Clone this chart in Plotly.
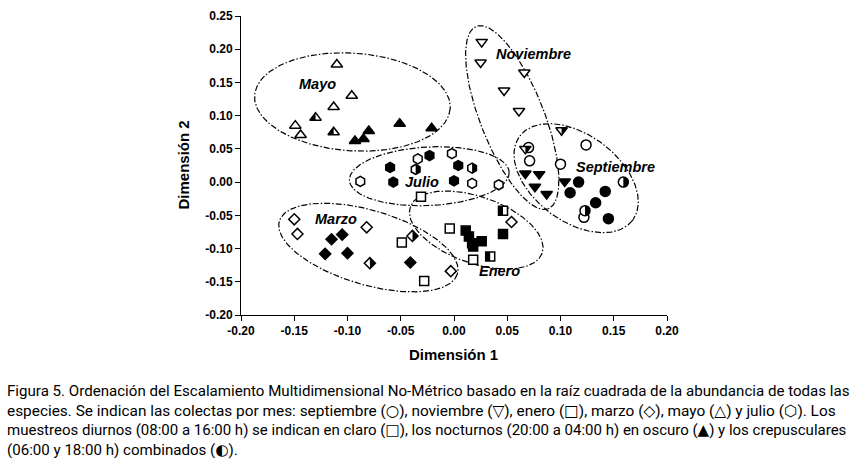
import numpy as np
import plotly.graph_objects as go

# ---------------- data (Dimension 1, Dimension 2) ----------------
# Septiembre (circle)
sep_open_x = [0.070, 0.071, 0.124, 0.100, 0.122]
sep_open_y = [0.052, 0.032, 0.056, 0.027, -0.053]
sep_fill_x = [0.117, 0.109, 0.142, 0.133, 0.145]
sep_fill_y = [0.000, -0.016, -0.014, -0.031, -0.055]
sep_half_x = [0.159, 0.123]
sep_half_y = [0.000, -0.043]

# Noviembre (triangle-down)
nov_open_x = [0.026, 0.025, 0.066, 0.047, 0.061]
nov_open_y = [0.211, 0.180, 0.165, 0.138, 0.107]
nov_fill_x = [0.067, 0.080, 0.076, 0.087, 0.104]
nov_fill_y = [0.013, 0.012, -0.007, -0.018, 0.001]
nov_half_x = [0.101, 0.067]
nov_half_y = [0.078, 0.050]

# Enero (square)
ene_open_x = [-0.031, -0.049, -0.004, 0.018, -0.028]
ene_open_y = [-0.022, -0.091, -0.070, -0.117, -0.149]
ene_fill_x = [0.011, 0.014, 0.017, 0.026, 0.018, 0.046]
ene_fill_y = [-0.073, -0.082, -0.092, -0.089, -0.097, -0.078]
ene_half_x = [0.046, 0.034]
ene_half_y = [-0.043, -0.112]

# Marzo (diamond)
mar_open_x = [-0.150, -0.147, -0.082, 0.054, -0.003]
mar_open_y = [-0.056, -0.078, -0.068, -0.060, -0.134]
mar_fill_x = [-0.115, -0.105, -0.121, -0.100, -0.041]
mar_fill_y = [-0.086, -0.079, -0.108, -0.107, -0.121]
mar_half_x = [-0.079, -0.039]
mar_half_y = [-0.122, -0.081]

# Mayo (triangle-up)
may_open_x = [-0.110, -0.096, -0.113, -0.149, -0.144]
may_open_y = [0.177, 0.130, 0.113, 0.085, 0.071]
may_fill_x = [-0.093, -0.085, -0.080, -0.051, -0.021]
may_fill_y = [0.062, 0.065, 0.077, 0.088, 0.081]
may_half_x = [-0.130, -0.113]
may_half_y = [0.097, 0.075]

# Julio (hexagon)
jul_open_x = [-0.034, -0.002, 0.017, 0.042, -0.088]
jul_open_y = [0.035, 0.043, -0.002, -0.004, 0.001]
jul_fill_x = [-0.023, -0.060, 0.004, -0.057, 0.000]
jul_fill_y = [0.040, 0.022, 0.025, 0.000, 0.002]
jul_half_x = [-0.036, 0.017]
jul_half_y = [0.019, 0.021]

# group labels
label_text = ["Mayo", "Noviembre", "Septiembre", "Julio", "Marzo", "Enero"]
label_x = [-0.128, 0.0745, 0.152, -0.030, -0.111, 0.043]
label_y = [0.147, 0.193, 0.0235, 0.000, -0.056, -0.134]

# ellipses: centre (data), semi-axes (px), angle (deg, clockwise on screen)
ell_cx = [-0.0954, 0.0547, 0.1147, -0.0232, 0.0209, -0.0804]
ell_cy = [0.1206, 0.0971, 0.0059, 0.0088, -0.0721, -0.0985]
ell_a = [98, 100, 71, 80, 70, 93]
ell_b = [50, 32, 44, 30, 34, 38]
ell_ang = [4, 69, 38, -3, 20, 17]

x_ticks = [-0.20, -0.15, -0.10, -0.05, 0.00, 0.05, 0.10, 0.15, 0.20]
y_ticks = [-0.20, -0.15, -0.10, -0.05, 0.00, 0.05, 0.10, 0.15, 0.20, 0.25]


def sym(c):
    return f'<span style="font-family:DejaVu Sans">{c}</span>'


caption = [
    "Figura 5. Ordenación del Escalamiento Multidimensional No-Métrico basado en la raíz cuadrada de la abundancia de todas las",
    f"especies. Se indican las colectas por mes: septiembre ({sym('○')}), noviembre ({sym('▽')}), enero ({sym('□')}), "
    f"marzo ({sym('◇')}), mayo ({sym('△')}) y julio ({sym('⬡')}). Los",
    f"muestreos diurnos (08:00 a 16:00 h) se indican en claro ({sym('□')}), los nocturnos (20:00 a 04:00 h) "
    f"en oscuro ({sym('▲')}) y los crepusculares",
    f"(06:00 y 18:00 h) combinados ({sym('◐')}).",
]
caption_size = [15.1, 15.4, 15.0, 15.1]

# ---------------- layout geometry ----------------
W, H = 856, 463
ML, MR, MT, MB = 241, 189, 9, 148
XR = [-0.20, 0.20]
YR = [-0.20, 0.25]
PW, PH = W - ML - MR, H - MT - MB
kx = PW / (XR[1] - XR[0])
ky = PH / (YR[1] - YR[0])

BOLD = "Liberation Sans"
CAP = "Roboto"

fig = go.Figure()

# ellipses
for cx, cy, a, b, ang in zip(ell_cx, ell_cy, ell_a, ell_b, ell_ang):
    t = np.linspace(0, 2 * np.pi, 240)
    u, v = a * np.cos(t), b * np.sin(t)
    th = np.radians(ang)
    dx = u * np.cos(th) - v * np.sin(th)
    dy = u * np.sin(th) + v * np.cos(th)
    fig.add_trace(go.Scatter(x=cx + dx / kx, y=cy - dy / ky, mode="lines",
                             line=dict(color="black", width=1.2, dash="6px,2px,1.5px,2px"),
                             hoverinfo="skip"))

groups = [
    ("circle", 10, (sep_open_x, sep_open_y), (sep_fill_x, sep_fill_y), (sep_half_x, sep_half_y), "right"),
    ("triangle-down", 10, (nov_open_x, nov_open_y), (nov_fill_x, nov_fill_y), (nov_half_x, nov_half_y), "right"),
    ("square", 9, (ene_open_x, ene_open_y), (ene_fill_x, ene_fill_y), (ene_half_x, ene_half_y), "left"),
    ("diamond", 8.5, (mar_open_x, mar_open_y), (mar_fill_x, mar_fill_y), (mar_half_x, mar_half_y), "right"),
    ("triangle-up", 10, (may_open_x, may_open_y), (may_fill_x, may_fill_y), (may_half_x, may_half_y), "left"),
    ("hexagon", 10, (jul_open_x, jul_open_y), (jul_fill_x, jul_fill_y), (jul_half_x, jul_half_y), "right"),
]


def half_poly(symbol, size, side):
    r = size / 2.0
    s = -1 if side == "left" else 1
    if symbol == "circle":
        ang = np.linspace(-np.pi / 2, np.pi / 2, 20)
        pts = [(s * r * np.cos(a), r * np.sin(a)) for a in ang]
    elif symbol == "square":
        pts = [(0, -r), (s * r, -r), (s * r, r), (0, r)]
    elif symbol == "diamond":
        rd = 1.3 * r
        pts = [(0, -rd), (s * rd, 0), (0, rd)]
    elif symbol == "triangle-up":
        rt = r * 2 / np.sqrt(3)
        pts = [(0, -r / 2), (s * rt, -r / 2), (0, r)]
    elif symbol == "triangle-down":
        rt = r * 2 / np.sqrt(3)
        pts = [(0, r / 2), (s * rt, r / 2), (0, -r)]
    else:  # hexagon
        rA = 1.05 * r
        rB, rC = rA / 2, rA * np.sqrt(3) / 2
        pts = [(0, rA), (s * rC, rB), (s * rC, -rB), (0, -rA)]
    return "M " + " L ".join(f"{px:.2f},{py:.2f}" for px, py in pts) + " Z"


shapes = []
for symbol, size, op, fi, ha, side in groups:
    fig.add_trace(go.Scatter(x=op[0], y=op[1], mode="markers",
                             marker=dict(symbol=symbol, size=size, color="white",
                                         line=dict(color="black", width=1.5))))
    fig.add_trace(go.Scatter(x=fi[0], y=fi[1], mode="markers",
                             marker=dict(symbol=symbol, size=size, color="black",
                                         line=dict(color="black", width=1.5))))
    fig.add_trace(go.Scatter(x=ha[0], y=ha[1], mode="markers",
                             marker=dict(symbol=symbol, size=size, color="white",
                                         line=dict(color="black", width=1.5))))
    path = half_poly(symbol, size, side)
    for hx, hy in zip(ha[0], ha[1]):
        shapes.append(dict(type="path", xref="x", yref="y", xsizemode="pixel", ysizemode="pixel",
                           xanchor=hx, yanchor=hy, path=path, fillcolor="black",
                           line=dict(width=0), layer="above"))

annotations = []
for t, x, y in zip(label_text, label_x, label_y):
    annotations.append(dict(x=x, y=y, xref="x", yref="y", text=f"<b><i>{t}</i></b>", showarrow=False,
                            xanchor="center", yanchor="middle",
                            font=dict(family=BOLD, size=14.5, color="black")))

annotations.append(dict(x=(453 - ML) / PW, y=(H - MB - 355) / PH, xref="paper", yref="paper",
                        xanchor="center", yanchor="middle",
                        text="<b>Dimensión 1</b>", showarrow=False,
                        font=dict(family=BOLD, size=15, color="black")))
annotations.append(dict(x=(183 - ML) / PW, y=(H - MB - 162) / PH, xref="paper", yref="paper",
                        xanchor="center", yanchor="middle",
                        text="<b>Dimensión 2</b>", showarrow=False, textangle=-90,
                        font=dict(family=BOLD, size=15, color="black")))

cap_y = [393, 413, 433, 453]
for line, py, fs in zip(caption, cap_y, caption_size):
    annotations.append(dict(x=(5 - ML) / PW, y=(H - MB - py) / PH, xref="paper", yref="paper",
                            xanchor="left", yanchor="middle", text=line, showarrow=False,
                            font=dict(family=CAP, size=fs, color="black")))

axis_common = dict(showline=True, linecolor="black", linewidth=1, ticks="outside", ticklen=5,
                   tickcolor="black", tickwidth=1, showgrid=False, zeroline=False,
                   tickfont=dict(family=BOLD, size=12, color="black", weight="bold"))

fig.update_layout(
    width=W, height=H, margin=dict(l=ML, r=MR, t=MT, b=MB),
    paper_bgcolor="white", plot_bgcolor="white", showlegend=False,
    xaxis=dict(range=XR, tickvals=x_ticks, ticktext=[f"{v:.2f}" for v in x_ticks], **axis_common),
    yaxis=dict(range=YR, tickvals=y_ticks, ticktext=[f"{v:.2f}" for v in y_ticks], **axis_common),
    shapes=shapes, annotations=annotations,
)

fig.write_html("out.html", config={"displayModeBar": False},
               post_script="document.body.style.margin='0';document.body.style.overflow='hidden';")
